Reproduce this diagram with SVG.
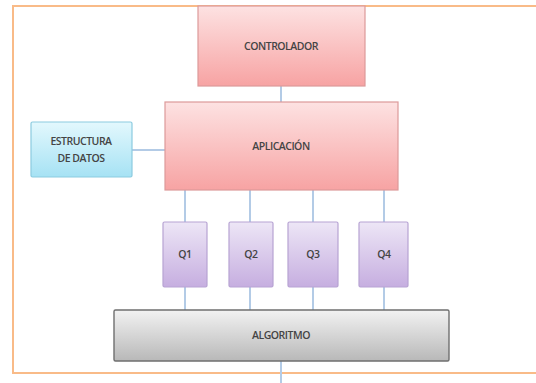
<svg xmlns="http://www.w3.org/2000/svg" width="536" height="383" viewBox="0 0 536 383">
<defs>
<linearGradient id="gPink" x1="0" y1="0" x2="0" y2="1"><stop offset="0" stop-color="#fde2e2"/><stop offset="1" stop-color="#f7a3a3"/></linearGradient>
<linearGradient id="gBlue" x1="0" y1="0" x2="0" y2="1"><stop offset="0" stop-color="#e3f8fd"/><stop offset="1" stop-color="#a6e2f4"/></linearGradient>
<linearGradient id="gPurple" x1="0" y1="0" x2="0" y2="1"><stop offset="0" stop-color="#ede6f6"/><stop offset="1" stop-color="#c6aee0"/></linearGradient>
<linearGradient id="gGray" x1="0" y1="0" x2="0" y2="1"><stop offset="0" stop-color="#f2f2f2"/><stop offset="1" stop-color="#b8b8b8"/></linearGradient>
<style>
.pink{fill:url(#gPink);stroke:#dd9a9a;stroke-width:1.2}
.blue{fill:url(#gBlue);stroke:#8ccbe0;stroke-width:1.2}
.purple{fill:url(#gPurple);stroke:#b7a3d3;stroke-width:1.2}
.gray{fill:url(#gGray);stroke:#6f6f6f;stroke-width:1.4}
.t{font-family:"Open Sans","Liberation Sans",sans-serif;font-size:10.5px;font-weight:600;fill:#444;text-anchor:middle;letter-spacing:-0.5px}
.c{stroke:#b3cbe6;stroke-width:2;fill:none}
.frame{fill:none;stroke:#f9bb88;stroke-width:2}
</style>
</defs>
<rect width="536" height="383" fill="#ffffff"/>
<path class="frame" d="M540 6 H13 V373 H540"/>
<g id="connectors">
<line class="c" x1="281" y1="86" x2="281" y2="102"/>
<line class="c" x1="132" y1="150" x2="165" y2="150"/>
<line class="c" x1="185" y1="190" x2="185" y2="222"/>
<line class="c" x1="250" y1="190" x2="250" y2="222"/>
<line class="c" x1="313" y1="190" x2="313" y2="222"/>
<line class="c" x1="384" y1="190" x2="384" y2="222"/>
<line class="c" x1="185" y1="287" x2="185" y2="310"/>
<line class="c" x1="250" y1="287" x2="250" y2="310"/>
<line class="c" x1="313" y1="287" x2="313" y2="310"/>
<line class="c" x1="384" y1="287" x2="384" y2="310"/>
<line class="c" x1="281" y1="361" x2="281" y2="383"/>
</g>
<g id="controlador"><rect class="pink" x="198" y="6" width="167" height="80"/><text class="t" x="281" y="50">CONTROLADOR</text></g>
<g id="aplicacion"><rect class="pink" x="165" y="102" width="233" height="88"/><text class="t" x="281" y="150">APLICACIÓN</text></g>
<g id="estructura"><rect class="blue" x="31" y="122" width="101" height="55" rx="1.5"/><text class="t" x="81" y="145">ESTRUCTURA</text><text class="t" x="81" y="162">DE DATOS</text></g>
<g id="q1"><rect class="purple" x="163" y="222" width="44" height="65" rx="1.5"/><text class="t" x="185" y="258">Q1</text></g>
<g id="q2"><rect class="purple" x="229" y="222" width="44" height="65" rx="1.5"/><text class="t" x="251" y="258">Q2</text></g>
<g id="q3"><rect class="purple" x="288" y="222" width="50" height="65" rx="1.5"/><text class="t" x="313" y="258">Q3</text></g>
<g id="q4"><rect class="purple" x="359" y="222" width="49" height="65" rx="1.5"/><text class="t" x="384" y="258">Q4</text></g>
<g id="algoritmo"><rect class="gray" x="114" y="310" width="335" height="51" rx="1.5"/><text class="t" x="281" y="339">ALGORITMO</text></g>
</svg>
